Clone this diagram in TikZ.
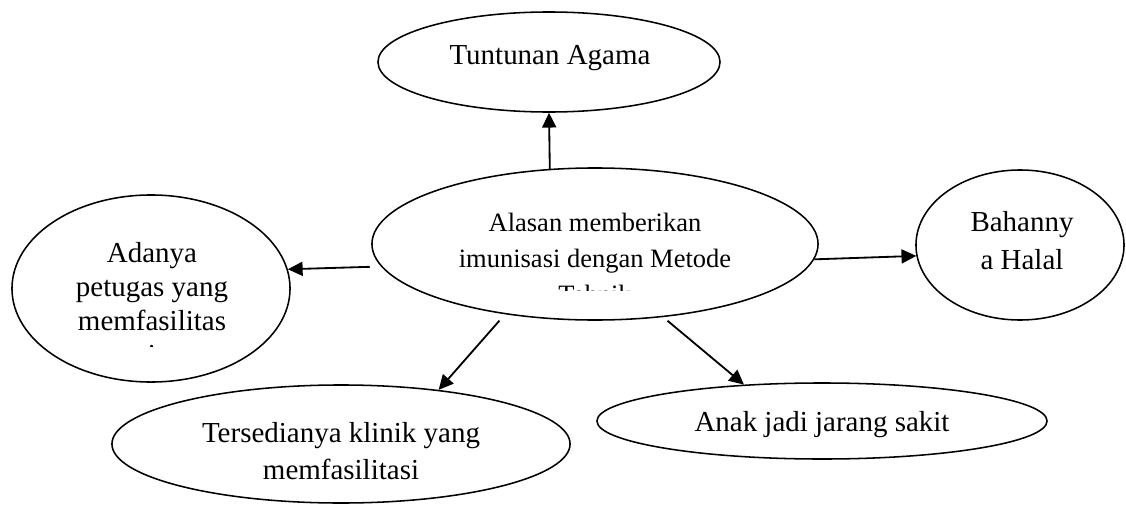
\documentclass[tikz,border=0pt]{standalone}
\usepackage{fontspec}
\setmainfont{Liberation Serif}
\usetikzlibrary{arrows.meta,shapes.geometric}

\tikzset{
  bubble/.style={draw=black, ellipse, line width=1.1pt, inner sep=0pt},
  txt/.style={align=center, inner sep=0pt, font=\fontsize{20.6}{24.2}\selectfont},
  link/.style={line width=1.3pt, -{Triangle[length=10.5pt,width=10pt]}},
}

\begin{document}
\begin{tikzpicture}[x=0.025cm, y=-0.025cm]
  \useasboundingbox (0,0) rectangle (1126,506);

  % ellipses
  \node[bubble, minimum width=11.15cm, minimum height=3.8cm]  (alasan)  at (595,244) {};
  \node[bubble, minimum width=8.55cm,  minimum height=2.5cm]  (agama)   at (549,62)  {};
  \node[bubble, minimum width=6.95cm,  minimum height=4.675cm] (petugas) at (151,288.5) {};
  \node[bubble, minimum width=5.2cm,   minimum height=3.75cm] (halal)   at (1020,245) {};
  \node[bubble, minimum width=11.45cm, minimum height=2.95cm] (klinik)  at (341,444) {};
  \node[bubble, minimum width=11.25cm, minimum height=1.9cm]  (sakit)   at (822,421) {};

  % texts (some are cut off by their box)
  \begin{scope}
    \clip (380,160) rectangle (810,290);
    \node[txt, font=\fontsize{18.85}{25.6}\selectfont] (alasantext) at (595,258)
      {Alasan memberikan\\imunisasi dengan Metode\\Tehnik};
  \end{scope}
  \begin{scope}
    \clip (20,200) rectangle (290,346);
    \node[txt] (petugastext) at (152,303.5) {Adanya\\petugas yang\\memfasilitas\\i};
  \end{scope}
  \node[txt] (agamatext) at (550,58) {Tuntunan Agama};
  \node[txt, font=\fontsize{20.6}{27}\selectfont] (halaltext) at (1022,241) {Bahanny\\a Halal};
  \node[txt, font=\fontsize{20.6}{26.3}\selectfont] (kliniktext) at (341,451)
    {Tersedianya klinik yang\\memfasilitasi};
  \node[txt] (sakittext) at (822,425) {Anak jadi jarang sakit};

  % arrows
  \draw[link] (alasan.121) -- (agama.270);
  \draw[link, shorten <=8pt] (alasan.186.6) -- (petugas.8.4);
  \draw[link] (alasan.356.7) -- (halal.186.6);
  \draw[link, shorten <=6pt] (alasan.218.8) -- (klinik.29.9);
  \draw[link, shorten <=4pt] (alasan.313.9) -- (sakit.155.1);
\end{tikzpicture}
\end{document}
